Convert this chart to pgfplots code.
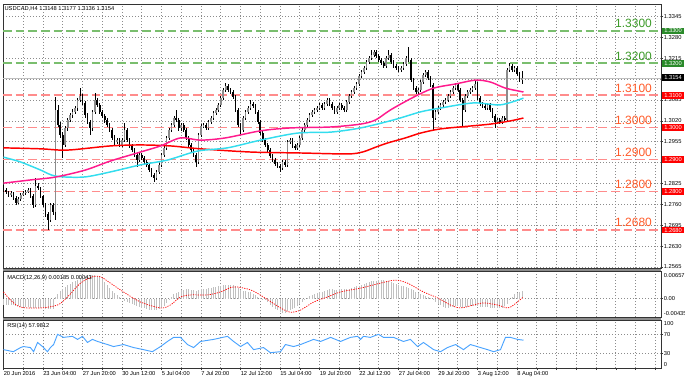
\documentclass[border=0pt]{standalone}
\usepackage{fontspec}
\setmainfont{Liberation Sans}
\usepackage{pgfplots}
\usepackage{pgfplotstable}
\pgfplotsset{compat=1.18}
\definecolor{gline}{HTML}{7ABE6E}
\definecolor{gtext}{HTML}{3C9A28}
\definecolor{gbox}{HTML}{2A8A2A}
\definecolor{rline}{HTML}{FF8C8C}
\definecolor{rtext}{HTML}{FF5A28}
\definecolor{rbox}{HTML}{FF0000}
\definecolor{cyanma}{HTML}{33DDEE}
\definecolor{pinkma}{HTML}{FF1A8C}
\definecolor{redma}{HTML}{FF0000}
\definecolor{histgray}{HTML}{C0C0C0}
\definecolor{rsiblue}{HTML}{4AA3FF}
\definecolor{bullgray}{HTML}{8C8C8C}
\newcommand\tf{\fontsize{4.3}{5}\selectfont}
\newcommand\lf{\fontsize{9}{10}\selectfont}

\pgfplotstableread{
k O H L C M
0 1.2812 1.2820 1.2800 1.2805 -0.0014
1 1.2805 1.2810 1.2792 1.2799 -0.0014
2 1.2799 1.2803 1.2783 1.2789 -0.0015
3 1.2789 1.2801 1.2784 1.2795 -0.0015
4 1.2795 1.2800 1.2774 1.2780 -0.0016
5 1.2780 1.2785 1.2758 1.2764 -0.0017
6 1.2764 1.2783 1.2760 1.2777 -0.0018
7 1.2777 1.2795 1.2772 1.2789 -0.0019
8 1.2789 1.2802 1.2785 1.2795 -0.0020
9 1.2795 1.2806 1.2790 1.2799 -0.0020
10 1.2799 1.2812 1.2794 1.2805 -0.0020
11 1.2805 1.2810 1.2780 1.2786 -0.0021
12 1.2786 1.2791 1.2750 1.2758 -0.0022
13 1.2758 1.2842 1.2752 1.2817 -0.0021
14 1.2817 1.2825 1.2804 1.2811 -0.0021
15 1.2811 1.2815 1.2780 1.2786 -0.0022
16 1.2786 1.2790 1.2752 1.2758 -0.0023
17 1.2758 1.2763 1.2722 1.2730 -0.0024
18 1.2730 1.2736 1.2680 1.2711 -0.0025
19 1.2711 1.2765 1.2705 1.2758 -0.0024
20 1.2758 1.2764 1.2728 1.2736 -0.0024
21 1.2736 1.3094 1.2711 1.3054 0.0003
22 1.3054 1.3070 1.3000 1.3007 0.0012
23 1.3007 1.3015 1.2968 1.2976 0.0018
24 1.2976 1.2985 1.2904 1.2945 0.0023
25 1.2945 1.3005 1.2938 1.2998 0.0028
26 1.2998 1.3030 1.2990 1.3023 0.0032
27 1.3023 1.3045 1.3015 1.3038 0.0036
28 1.3038 1.3056 1.3030 1.3048 0.0039
29 1.3048 1.3068 1.3040 1.3060 0.0042
30 1.3060 1.3092 1.3052 1.3085 0.0045
31 1.3085 1.3122 1.3078 1.3098 0.0049
32 1.3098 1.3105 1.3070 1.3076 0.0052
33 1.3076 1.3082 1.3030 1.3038 0.0054
34 1.3038 1.3045 1.3010 1.3017 0.0055
35 1.3017 1.3024 1.2976 1.2998 0.0055
36 1.2998 1.3055 1.2990 1.3048 0.0056
37 1.3048 1.3107 1.3040 1.3085 0.0056
38 1.3085 1.3092 1.3062 1.3070 0.0055
39 1.3070 1.3077 1.3040 1.3048 0.0053
40 1.3048 1.3055 1.3028 1.3035 0.0048
41 1.3035 1.3042 1.3015 1.3023 0.0040
42 1.3023 1.3030 1.3000 1.3007 0.0033
43 1.3007 1.3014 1.2985 1.2992 0.0026
44 1.2992 1.2998 1.2960 1.2967 0.0019
45 1.2967 1.2975 1.2946 1.2954 0.0013
46 1.2954 1.2968 1.2948 1.2960 0.0008
47 1.2960 1.2966 1.2938 1.2945 0.0004
48 1.2945 1.2967 1.2940 1.2960 0.0000
49 1.2960 1.3013 1.2955 1.2992 -0.0005
50 1.2992 1.2998 1.2953 1.2960 -0.0008
51 1.2960 1.2966 1.2935 1.2942 -0.0011
52 1.2942 1.2948 1.2922 1.2929 -0.0013
53 1.2929 1.2936 1.2907 1.2914 -0.0015
54 1.2914 1.2920 1.2876 1.2898 -0.0018
55 1.2898 1.2922 1.2892 1.2914 -0.0019
56 1.2914 1.2920 1.2898 1.2904 -0.0021
57 1.2904 1.2910 1.2885 1.2892 -0.0023
58 1.2892 1.2898 1.2876 1.2883 -0.0025
59 1.2883 1.2889 1.2860 1.2867 -0.0026
60 1.2867 1.2873 1.2845 1.2852 -0.0027
61 1.2852 1.2858 1.2830 1.2842 -0.0028
62 1.2842 1.2868 1.2836 1.2861 -0.0027
63 1.2861 1.2890 1.2855 1.2883 -0.0025
64 1.2883 1.2921 1.2877 1.2914 -0.0022
65 1.2914 1.2943 1.2908 1.2936 -0.0017
66 1.2936 1.2974 1.2930 1.2967 -0.0011
67 1.2967 1.2999 1.2960 1.2992 -0.0004
68 1.2992 1.3014 1.2985 1.3007 0.0003
69 1.3007 1.3036 1.3000 1.3029 0.0010
70 1.3029 1.3054 1.3016 1.3023 0.0014
71 1.3023 1.3030 1.2990 1.2998 0.0017
72 1.2998 1.3014 1.2990 1.3007 0.0020
73 1.3007 1.3013 1.2985 1.2992 0.0021
74 1.2992 1.2998 1.2960 1.2967 0.0022
75 1.2967 1.2973 1.2938 1.2945 0.0022
76 1.2945 1.2951 1.2922 1.2929 0.0021
77 1.2929 1.2935 1.2907 1.2914 0.0020
78 1.2914 1.2920 1.2876 1.2892 0.0019
79 1.2892 1.2983 1.2886 1.2976 0.0021
80 1.2976 1.3011 1.2970 1.3004 0.0023
81 1.3004 1.3014 1.2997 1.3007 0.0024
82 1.3007 1.3013 1.2991 1.2998 0.0024
83 1.2998 1.3024 1.2992 1.3017 0.0025
84 1.3017 1.3036 1.3010 1.3029 0.0026
85 1.3029 1.3052 1.3022 1.3045 0.0027
86 1.3045 1.3061 1.3038 1.3054 0.0028
87 1.3054 1.3077 1.3047 1.3070 0.0029
88 1.3070 1.3098 1.3063 1.3091 0.0030
89 1.3091 1.3123 1.3084 1.3116 0.0032
90 1.3116 1.3138 1.3110 1.3129 0.0033
91 1.3129 1.3135 1.3109 1.3116 0.0033
92 1.3116 1.3122 1.3103 1.3110 0.0033
93 1.3110 1.3116 1.3087 1.3094 0.0032
94 1.3094 1.3100 1.3047 1.3054 0.0029
95 1.3054 1.3060 1.3000 1.3007 0.0025
96 1.3007 1.3013 1.2976 1.2992 0.0021
97 1.2992 1.3036 1.2985 1.3029 0.0019
98 1.3029 1.3055 1.3022 1.3048 0.0018
99 1.3048 1.3067 1.3041 1.3060 0.0017
100 1.3060 1.3085 1.3053 1.3073 0.0016
101 1.3073 1.3080 1.3059 1.3066 0.0012
102 1.3066 1.3072 1.3041 1.3048 0.0008
103 1.3048 1.3054 1.3010 1.3017 0.0005
104 1.3017 1.3023 1.2975 1.2982 0.0002
105 1.2982 1.2988 1.2953 1.2960 -0.0001
106 1.2960 1.2966 1.2938 1.2945 -0.0004
107 1.2945 1.2951 1.2922 1.2929 -0.0009
108 1.2929 1.2935 1.2904 1.2911 -0.0014
109 1.2911 1.2917 1.2891 1.2898 -0.0019
110 1.2898 1.2904 1.2879 1.2886 -0.0024
111 1.2886 1.2892 1.2873 1.2880 -0.0028
112 1.2880 1.2886 1.2861 1.2873 -0.0032
113 1.2873 1.2899 1.2867 1.2892 -0.0033
114 1.2892 1.2898 1.2876 1.2883 -0.0034
115 1.2883 1.2961 1.2877 1.2954 -0.0030
116 1.2954 1.2967 1.2947 1.2960 -0.0027
117 1.2960 1.2966 1.2935 1.2942 -0.0024
118 1.2942 1.2948 1.2929 1.2936 -0.0022
119 1.2936 1.2952 1.2930 1.2945 -0.0018
120 1.2945 1.2974 1.2939 1.2967 -0.0013
121 1.2967 1.2999 1.2961 1.2992 -0.0008
122 1.2992 1.3014 1.2986 1.3007 -0.0003
123 1.3007 1.3030 1.3001 1.3023 0.0002
124 1.3023 1.3045 1.3017 1.3038 0.0006
125 1.3038 1.3055 1.3032 1.3048 0.0009
126 1.3048 1.3061 1.3042 1.3054 0.0011
127 1.3054 1.3067 1.3048 1.3060 0.0013
128 1.3060 1.3077 1.3054 1.3070 0.0015
129 1.3070 1.3076 1.3053 1.3060 0.0017
130 1.3060 1.3080 1.3054 1.3073 0.0019
131 1.3073 1.3092 1.3067 1.3085 0.0021
132 1.3085 1.3091 1.3066 1.3073 0.0022
133 1.3073 1.3079 1.3053 1.3060 0.0022
134 1.3060 1.3066 1.3041 1.3048 0.0021
135 1.3048 1.3067 1.3042 1.3060 0.0021
136 1.3060 1.3077 1.3054 1.3070 0.0022
137 1.3070 1.3076 1.3053 1.3060 0.0022
138 1.3060 1.3066 1.3047 1.3054 0.0022
139 1.3054 1.3086 1.3048 1.3079 0.0022
140 1.3079 1.3105 1.3073 1.3098 0.0023
141 1.3098 1.3117 1.3092 1.3110 0.0025
142 1.3110 1.3129 1.3104 1.3122 0.0027
143 1.3122 1.3142 1.3116 1.3135 0.0029
144 1.3135 1.3167 1.3129 1.3160 0.0031
145 1.3160 1.3179 1.3154 1.3172 0.0033
146 1.3172 1.3192 1.3166 1.3185 0.0035
147 1.3185 1.3210 1.3179 1.3203 0.0037
148 1.3203 1.3223 1.3197 1.3216 0.0039
149 1.3216 1.3241 1.3210 1.3225 0.0041
150 1.3225 1.3242 1.3219 1.3235 0.0042
151 1.3235 1.3241 1.3215 1.3222 0.0043
152 1.3222 1.3228 1.3203 1.3210 0.0044
153 1.3210 1.3216 1.3193 1.3200 0.0044
154 1.3200 1.3206 1.3184 1.3191 0.0044
155 1.3191 1.3223 1.3185 1.3216 0.0043
156 1.3216 1.3241 1.3210 1.3225 0.0042
157 1.3225 1.3231 1.3196 1.3203 0.0040
158 1.3203 1.3209 1.3184 1.3191 0.0037
159 1.3191 1.3197 1.3178 1.3185 0.0035
160 1.3185 1.3191 1.3172 1.3179 0.0033
161 1.3179 1.3192 1.3173 1.3185 0.0031
162 1.3185 1.3204 1.3179 1.3197 0.0029
163 1.3197 1.3223 1.3191 1.3216 0.0028
164 1.3216 1.3250 1.3203 1.3210 0.0026
165 1.3210 1.3216 1.3140 1.3147 0.0024
166 1.3147 1.3153 1.3115 1.3122 0.0020
167 1.3122 1.3128 1.3103 1.3110 0.0016
168 1.3110 1.3123 1.3104 1.3116 0.0013
169 1.3116 1.3148 1.3110 1.3141 0.0010
170 1.3141 1.3170 1.3135 1.3163 0.0008
171 1.3163 1.3179 1.3157 1.3172 0.0006
172 1.3172 1.3178 1.3147 1.3154 0.0004
173 1.3154 1.3160 1.3125 1.3132 0.0001
174 1.3132 1.3138 1.2992 1.3029 -0.0004
175 1.3029 1.3055 1.3022 1.3048 -0.0008
176 1.3048 1.3067 1.3042 1.3060 -0.0012
177 1.3060 1.3077 1.3054 1.3070 -0.0016
178 1.3070 1.3086 1.3064 1.3079 -0.0019
179 1.3079 1.3092 1.3073 1.3085 -0.0021
180 1.3085 1.3105 1.3079 1.3098 -0.0021
181 1.3098 1.3117 1.3092 1.3110 -0.0020
182 1.3110 1.3129 1.3104 1.3122 -0.0019
183 1.3122 1.3139 1.3116 1.3132 -0.0018
184 1.3132 1.3138 1.3109 1.3116 -0.0018
185 1.3116 1.3122 1.3078 1.3085 -0.0019
186 1.3085 1.3091 1.3001 1.3054 -0.0021
187 1.3054 1.3105 1.3048 1.3098 -0.0020
188 1.3098 1.3117 1.3092 1.3110 -0.0019
189 1.3110 1.3123 1.3104 1.3116 -0.0018
190 1.3116 1.3129 1.3110 1.3122 -0.0018
191 1.3122 1.3147 1.3116 1.3135 -0.0017
192 1.3135 1.3141 1.3084 1.3091 -0.0018
193 1.3091 1.3097 1.3066 1.3073 -0.0019
194 1.3073 1.3079 1.3059 1.3066 -0.0020
195 1.3066 1.3072 1.3053 1.3060 -0.0020
196 1.3060 1.3077 1.3054 1.3070 -0.0020
197 1.3070 1.3076 1.3047 1.3054 -0.0021
198 1.3054 1.3060 1.3028 1.3035 -0.0022
199 1.3035 1.3041 1.2998 1.3017 -0.0023
200 1.3017 1.3030 1.3011 1.3023 -0.0023
201 1.3023 1.3029 1.3010 1.3017 -0.0023
202 1.3017 1.3036 1.3011 1.3029 -0.0021
203 1.3029 1.3035 1.3016 1.3023 -0.0018
204 1.3023 1.3186 1.3017 1.3179 -0.0012
205 1.3179 1.3200 1.3173 1.3191 -0.0004
206 1.3191 1.3197 1.3172 1.3179 0.0004
207 1.3179 1.3192 1.3173 1.3185 0.0010
208 1.3185 1.3191 1.3159 1.3166 0.0014
209 1.3166 1.3172 1.3141 1.3148 0.0017
210 1.3148 1.3177 1.3136 1.3154 0.00185
}\candles

\pgfplotsset{
  mt/.style={scale only axis, width=493.5pt, xmin=-0.2, xmax=266.3, anchor=north west,
    axis line style={draw=black!80, line width=0.5pt},
    xtick={0,8,...,264}, xmajorgrids, ymajorgrids,
    major grid style={draw=black!45, line width=0.5pt, dash pattern=on 0.7pt off 1.55pt},
    ytick pos=right, yticklabel pos=right, tick align=outside,
    major tick length=1.5pt, scaled y ticks=false,
    tick style={draw=black!80, line width=0.4pt},
    yticklabel style={font=\tf, anchor=west, inner sep=0.5pt},
    xticklabel style={font=\tf}},
  lvl/.style={line width=1.15pt, dash pattern=on 6.5pt off 3pt, forget plot}
}
\tikzset{
  box/.style={anchor=west, inner xsep=0.8pt, inner ysep=0.4pt, font=\tf, text=white,
    minimum width=16.5pt, minimum height=5.2pt, xshift=0.6pt}
}

\begin{document}
\begin{tikzpicture}
\path[use as bounding box] (0,0) rectangle (513.75pt,-287.25pt);
\fill[black!45] (2.25pt,-201pt) rectangle (495.75pt,-203.25pt);
\fill[black!45] (2.25pt,-237.75pt) rectangle (495.75pt,-240pt);

% ---------- main price panel
\begin{axis}[mt, at={(2.25pt,-3pt)}, height=198pt,
  ymin=1.25617, ymax=1.33841,
  xtick style={draw=none}, xticklabels={},
  ytick={1.2565,1.2630,1.2695,1.2760,1.2825,1.2890,1.2955,1.3020,1.3085,1.3150,1.3215,1.3280,1.3345},
  yticklabels={1.2565,1.2630,1.2695,1.2760,1.2825,,1.2955,1.3020,1.3085,,1.3215,1.3280,1.3345}]
\addplot[lvl, draw=gline] coordinates {(-0.2,1.3300) (266.3,1.3300)};
\addplot[lvl, draw=gline] coordinates {(-0.2,1.3200) (266.3,1.3200)};
\addplot[lvl, draw=rline] coordinates {(-0.2,1.3100) (266.3,1.3100)};
\addplot[lvl, draw=rline] coordinates {(-0.2,1.3000) (266.3,1.3000)};
\addplot[lvl, draw=rline] coordinates {(-0.2,1.2900) (266.3,1.2900)};
\addplot[lvl, draw=rline] coordinates {(-0.2,1.2800) (266.3,1.2800)};
\addplot[lvl, draw=rline] coordinates {(-0.2,1.2680) (266.3,1.2680)};
\addplot[draw=black!25, line width=0.5pt, forget plot] coordinates {(-0.2,1.3154) (266.3,1.3154)};
% wicks
\addplot[draw=none, mark=none, forget plot,
  error bars/.cd, y dir=both, y explicit, error mark=none,
  error bar style={draw=black, line width=0.45pt, solid}]
  table[x=k, y expr={(\thisrow{H}+\thisrow{L})/2}, y error expr={(\thisrow{H}-\thisrow{L})/2}] {\candles};
% bull bodies
\addplot[draw=none, mark=none, forget plot,
  error bars/.cd, y dir=both, y explicit, error mark=none,
  error bar style={draw=bullgray, line width=1.25pt, solid}]
  table[x=k, y expr={(\thisrow{O}+\thisrow{C})/2}, y error expr={\thisrow{C}>=\thisrow{O} ? max((\thisrow{C}-\thisrow{O})/2,0.00006) : 0}] {\candles};
% bear bodies
\addplot[draw=none, mark=none, forget plot,
  error bars/.cd, y dir=both, y explicit, error mark=none,
  error bar style={draw=black, line width=1.25pt, solid}]
  table[x=k, y expr={(\thisrow{O}+\thisrow{C})/2}, y error expr={\thisrow{O}>\thisrow{C} ? (\thisrow{O}-\thisrow{C})/2 : 0}] {\candles};
% moving averages
\addplot[draw=redma, line width=1.1pt, smooth, tension=0.5] coordinates {
(0,1.2936) (15,1.2933) (25.9,1.2929) (43.3,1.2942) (55.5,1.2945) (67.6,1.2942) (79.8,1.2933) (100,1.2923) (120.3,1.2920) (139.3,1.2917) (145.4,1.2923) (150.7,1.2938) (155.5,1.2951) (162.8,1.2967) (168.9,1.2982) (177,1.2995) (189.1,1.3004) (197.2,1.3010) (205.3,1.3020) (210.6,1.3029)};
\addplot[draw=cyanma, line width=1.1pt, smooth, tension=0.5] coordinates {
(0,1.2907) (6.9,1.2892) (15,1.2867) (21.1,1.2848) (32.4,1.2845) (43.3,1.2861) (55.5,1.2883) (66.4,1.2898) (78.6,1.2926) (90.7,1.2936) (104.1,1.2960) (119.1,1.2982) (132.5,1.2985) (144.6,1.2998) (158,1.3023) (168.9,1.3048) (177,1.3060) (190.4,1.3076) (201.3,1.3070) (210.6,1.3091)};
\addplot[draw=pinkma, line width=1.1pt, smooth, tension=0.5] coordinates {
(0,1.2826) (10.9,1.2836) (21.1,1.2845) (33.2,1.2867) (43.3,1.2895) (55.5,1.2923) (63.6,1.2942) (71.7,1.2967) (79.8,1.2960) (89.9,1.2967) (104.1,1.2989) (116.2,1.2998) (132.5,1.3001) (144.6,1.3010) (150.7,1.3023) (156.7,1.3054) (166.1,1.3094) (174.2,1.3122) (183.1,1.3135) (191.2,1.3147) (197.2,1.3141) (203.3,1.3122) (210.6,1.3110)};
% level texts
\node[font=\lf, text=gtext, anchor=south east, inner sep=0pt, yshift=2pt] at (axis cs:262.7,1.3300) {1.3300};
\node[font=\lf, text=gtext, anchor=south east, inner sep=0pt, yshift=2pt] at (axis cs:262.7,1.3200) {1.3200};
\node[font=\lf, text=rtext, anchor=south east, inner sep=0pt, yshift=2pt] at (axis cs:262.7,1.3100) {1.3100};
\node[font=\lf, text=rtext, anchor=south east, inner sep=0pt, yshift=2pt] at (axis cs:262.7,1.3000) {1.3000};
\node[font=\lf, text=rtext, anchor=south east, inner sep=0pt, yshift=2pt] at (axis cs:262.7,1.2900) {1.2900};
\node[font=\lf, text=rtext, anchor=south east, inner sep=0pt, yshift=2pt] at (axis cs:262.7,1.2800) {1.2800};
\node[font=\lf, text=rtext, anchor=south east, inner sep=0pt, yshift=2pt] at (axis cs:262.7,1.2680) {1.2680};
\node[font=\tf, anchor=north west, inner sep=0pt, xshift=1pt, yshift=-1.6pt] at (rel axis cs:0,1) {USDCAD,H4 1.3148 1.3177 1.3136 1.3154};
\coordinate (b1) at (axis cs:266.3,1.3300);
\coordinate (b2) at (axis cs:266.3,1.3200);
\coordinate (b3) at (axis cs:266.3,1.3100);
\coordinate (b4) at (axis cs:266.3,1.3000);
\coordinate (b5) at (axis cs:266.3,1.2900);
\coordinate (b6) at (axis cs:266.3,1.2800);
\coordinate (b7) at (axis cs:266.3,1.2680);
\coordinate (bp) at (axis cs:266.3,1.3154);
\end{axis}
\node[box, fill=gbox] at (b1) {1.3300};
\node[box, fill=gbox] at (b2) {1.3200};
\node[box, fill=rbox] at (b3) {1.3100};
\node[box, fill=rbox] at (b4) {1.3000};
\node[box, fill=rbox] at (b5) {1.2900};
\node[box, fill=rbox] at (b6) {1.2800};
\node[box, fill=rbox] at (b7) {1.2680};
\node[box, fill=black] at (bp) {1.3154};

% ---------- MACD panel
\begin{axis}[mt, at={(2.25pt,-203.25pt)}, height=34.5pt,
  ymin=-0.00435, ymax=0.00657, ytick={0}, yticklabels={0.00},
  xtick style={draw=none}, xticklabels={}]
\addplot[ycomb, draw=histgray, line width=0.55pt, mark=none] table[x=k, y=M] {\candles};
\addplot[draw=red, line width=0.55pt, dash pattern=on 0.9pt off 0.9pt, smooth, tension=0.5] coordinates {
(0,0.0016) (2.8,-0.0003) (6.9,-0.0020) (15,-0.0022) (21.9,-0.0015) (25.9,0.0004) (31.2,0.0037) (36,0.0052) (39.3,0.0052) (43.3,0.0037) (48.6,0.0016) (55.5,-0.0008) (63.6,-0.0022) (67.6,-0.0015) (71.7,0.0004) (75.7,0.0009) (82.6,0.0009) (87.9,0.0016) (93.2,0.0028) (100,0.0021) (105.3,0.0004) (112.2,-0.0022) (116.2,-0.0032) (120.3,-0.0027) (125.6,-0.0008) (131.2,0.0004) (136.5,0.0016) (144.6,0.0025) (152.7,0.0037) (158.8,0.0044) (163.6,0.0037) (170.1,0.0016) (175.8,0.0002) (181,-0.0015) (185.1,-0.0022) (190.4,-0.0015) (194.4,-0.0010) (200.1,-0.0015) (204.1,-0.0022) (206.6,-0.0015) (210.6,0.00043)};
\node[font=\tf, anchor=north west, inner sep=0pt, xshift=3pt, yshift=-3pt] at (rel axis cs:0,1) {MACD(12,26,9) 0.00185 0.00043};
\coordinate (mtop) at (rel axis cs:1,1);
\coordinate (mbot) at (rel axis cs:1,0);
\end{axis}
\node[font=\tf, anchor=north west, inner sep=0pt, xshift=2pt, yshift=-1.3pt] at (mtop) {0.00657};
\node[font=\tf, anchor=south west, inner sep=0pt, xshift=2pt, yshift=1pt] at (mbot) {-0.00435};

% ---------- RSI panel
\begin{axis}[mt, at={(2.25pt,-240pt)}, height=36pt,
  ymin=0, ymax=100, ytick={30,70}, yticklabels={30,70},
  xtick pos=left,
  xticklabels={20 Jun 2016,,23 Jun 04:00,,27 Jun 20:00,,30 Jun 12:00,,5 Jul 04:00,,7 Jul 20:00,,12 Jul 12:00,,15 Jul 04:00,,19 Jul 20:00,,22 Jul 12:00,,27 Jul 04:00,,29 Jul 20:00,,3 Aug 12:00,,8 Aug 04:00,,,,,,,},
  xticklabel style={anchor=north west, inner sep=0pt, yshift=-0.8pt}]
\addplot[draw=rsiblue, line width=0.7pt] coordinates {
(0,38.3) (4,34) (6.9,42.6) (8.1,44.7) (10.9,42.6) (12.2,34) (13.8,53.2) (15.8,44.7) (17.8,34) (19,42.6) (20.3,48.9) (21.9,70.2) (24.3,63.8) (27.9,66) (30,59.6) (32,66) (34,53.2) (36,59.6) (38.1,55.3) (42.1,48.9) (44.6,44.7) (48.6,48.9) (52.7,42.6) (56.7,38.3) (60.3,34) (63.6,44.7) (66.4,55.3) (68.9,63.8) (71.7,63.8) (74.5,48.9) (77,42.6) (79.8,55.3) (85.1,59.6) (90.7,66) (93.2,55.3) (96,44.7) (98.8,53.2) (101.3,38.3) (105.3,42.6) (108.1,31.9) (112.2,34) (114.2,48.9) (117.5,44.7) (120.3,48.9) (125.6,59.6) (128.4,55.3) (132.5,63.8) (136.5,55.3) (140.5,63.8) (143.4,66) (144.6,59.6) (145.8,66) (148.6,63.8) (151.9,70.2) (153.9,63.8) (158,63.8) (162,55.3) (164.8,59.6) (167.7,44.7) (170.1,53.2) (174.2,38.3) (177,34) (179.8,42.6) (183.1,48.9) (186.3,38.3) (189.1,48.9) (193.2,42.6) (196,38.3) (198.5,34) (201.3,38.3) (203.3,63.8) (205.3,63.8) (208.2,59.6) (210.6,57.98)};
\node[font=\tf, anchor=north west, inner sep=0pt, xshift=3pt, yshift=-2pt] at (rel axis cs:0,1) {RSI(14) 57.9812};
\coordinate (rtop) at (rel axis cs:1,1);
\coordinate (rbot) at (rel axis cs:1,0);
\end{axis}
\node[font=\tf, anchor=north west, inner sep=0pt, xshift=2pt, yshift=-0.6pt] at (rtop) {100};
\node[font=\tf, anchor=south west, inner sep=0pt, xshift=2pt, yshift=0.6pt] at (rbot) {0};
\end{tikzpicture}
\end{document}
